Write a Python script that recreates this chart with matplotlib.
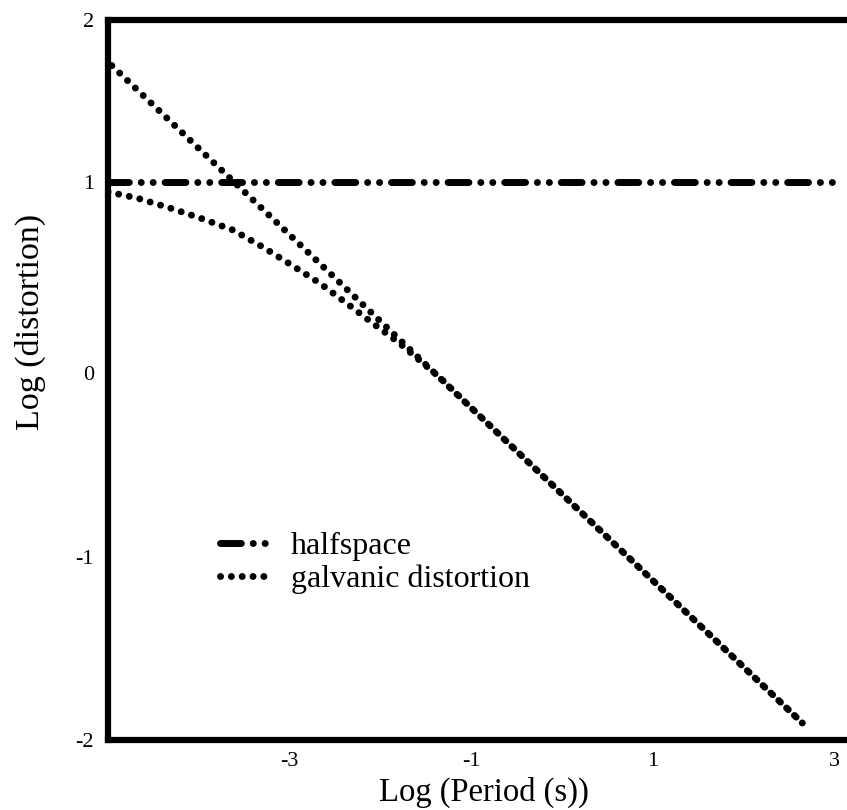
import numpy as np
import matplotlib
matplotlib.use("Agg")
import matplotlib.pyplot as plt

# ---------------- data ----------------
x_halfspace = [-5.0, 2.99]
y_halfspace = [1.0, 1.0]

# straight galvanic-distortion line
x_line = [-5.0, -4.0, -3.0, -2.0, -1.0, 0.0, 1.0, 2.0, 2.65]
y_line = [1.741, 1.207, 0.724, 0.271, -0.189, -0.658, -1.128, -1.601, -1.908]

# curved galvanic-distortion line (merges with the straight one)
x_galv = [-5.0, -4.681, -4.319, -3.989, -3.626, -3.297, -2.978, -2.670, -2.374,
          -2.088, -1.791, -1.352, -1.0, 0.0, 1.0, 2.0, 2.65]
y_galv = [0.948, 0.916, 0.864, 0.812, 0.749, 0.660, 0.565, 0.471, 0.366,
          0.262, 0.157, -0.022, -0.189, -0.658, -1.128, -1.601, -1.908]

xticks = [-3, -1, 1, 3]
xtick_labels = ["-3", "-1", "1", "3"]
yticks = [-2, -1, 0, 1, 2]
ytick_labels = ["-2", "-1", "0", "1", "2"]
# the printed y axis is unevenly spaced; relative spacing of its labels
ytick_spacing = [0.0, 183.0, 367.0, 558.0, 720.0]

legend_labels = ["halfspace", "galvanic distortion"]
xlabel = "Log (Period (s))"
ylabel = "Log (distortion)"

# ---------------- styling ----------------
plt.rcParams["font.family"] = ["Liberation Serif", "DejaVu Serif"]

def fwd(v):
    v = np.asarray(v, dtype=float)
    out = np.interp(v, yticks, ytick_spacing)
    s0 = (ytick_spacing[1] - ytick_spacing[0]) / (yticks[1] - yticks[0])
    s1 = (ytick_spacing[-1] - ytick_spacing[-2]) / (yticks[-1] - yticks[-2])
    out = np.where(v < yticks[0], ytick_spacing[0] + (v - yticks[0]) * s0, out)
    out = np.where(v > yticks[-1], ytick_spacing[-1] + (v - yticks[-1]) * s1, out)
    return out

def inv(c):
    c = np.asarray(c, dtype=float)
    out = np.interp(c, ytick_spacing, yticks)
    s0 = (yticks[1] - yticks[0]) / (ytick_spacing[1] - ytick_spacing[0])
    s1 = (yticks[-1] - yticks[-2]) / (ytick_spacing[-1] - ytick_spacing[-2])
    out = np.where(c < ytick_spacing[0], yticks[0] + (c - ytick_spacing[0]) * s0, out)
    out = np.where(c > ytick_spacing[-1], yticks[-1] + (c - ytick_spacing[-1]) * s1, out)
    return out

W, H = 847, 810
fig = plt.figure(figsize=(W / 100, H / 100), dpi=100)
ax = fig.add_axes([108 / W, 70 / H, 1 - 108 / W, 720 / H])
ax.set_yscale("function", functions=(fwd, inv))

lw = 5.0
dot_style = (0, (0.01, 1.55))
dash_dot_dot = (0, (3.0, 1.71, 0.01, 1.71, 0.01, 1.71))

ax.plot(x_halfspace, y_halfspace, color="black", lw=lw, linestyle=dash_dot_dot,
        dash_capstyle="round", label=legend_labels[0])
ax.plot(x_galv, y_galv, color="black", lw=lw, linestyle=dot_style,
        dash_capstyle="round", label=legend_labels[1])
ax.plot(x_line, y_line, color="black", lw=lw, linestyle=(0.8, (0.01, 1.55)),
        dash_capstyle="round")

ax.set_xlim(-5.0, 3.14)
ax.set_ylim(-2.0, 2.0)
ax.set_xticks(xticks)
ax.set_xticklabels(xtick_labels)
ax.set_yticks(yticks)
ax.set_yticklabels(ytick_labels)
ax.minorticks_off()
ax.tick_params(axis="both", length=0, labelsize=16)
ax.tick_params(axis="x", pad=9)
ax.tick_params(axis="y", pad=10)

for side in ["left", "top", "bottom"]:
    ax.spines[side].set_linewidth(4.5)
    ax.spines[side].set_capstyle("projecting")
ax.spines["right"].set_visible(False)

ax.set_xlabel(xlabel, fontsize=23.5, va="center")
ax.xaxis.set_label_coords((484 - 108) / 739, (740 - 792) / 720)
ax.set_ylabel(ylabel, fontsize=24.5, va="center")
ax.yaxis.set_label_coords((30 - 108) / 739, (740 - 322) / 720)

leg = ax.legend(loc="upper left", bbox_to_anchor=((220 - 108) / 739, (740 - 532) / 720),
                frameon=False, fontsize=23, handlelength=1.5, handletextpad=0.72,
                labelspacing=0.1, borderpad=0, borderaxespad=0)

fig.savefig("out.png", dpi=100, facecolor="white")
